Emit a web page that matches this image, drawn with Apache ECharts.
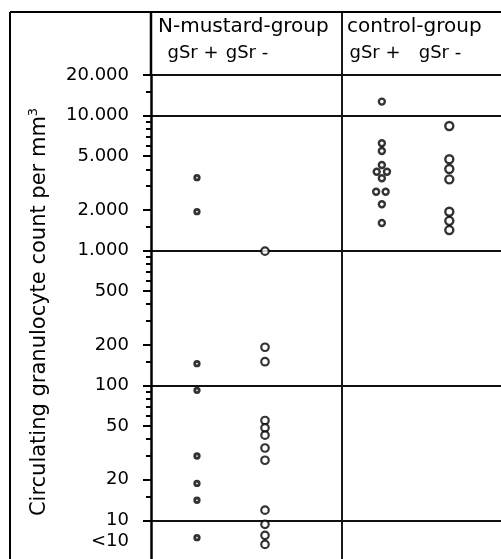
<!DOCTYPE html>
<html><head><meta charset="utf-8">
<script src="https://cdn.jsdelivr.net/npm/echarts@6/dist/echarts.min.js"></script>
<style>html,body{margin:0;padding:0;background:#fff}#c{width:501px;height:559px}</style>
</head><body><div id="c"></div>
<script>
// ---- data ----
const groups = ["N-mustard-group", "control-group"];
const subgroups = ["gSr +", "gSr -"];
const nMustardPlus = [3470, 1940, 145, 92, 30, 18.8, 14.1, 7.45];
const nMustardMinus = [990, 192, 150, 55, 48.5, 42.8, 34.4, 27.9, 11.9, 9.35, 7.75, 6.64];
const controlPlus = [12700, 6240, 5470, 4300, 3840, 3840, 3430, 2730, 2730, 2205, 1600];
const controlPlusJitter = [0, 0, 0, 0, -0.27, 0.27, 0, -0.3, 0.2, 0, 0];
const controlMinus = [8380, 4750, 4020, 3370, 1940, 1660, 1418];
const columnX = [2.42, 6.0, 12.15, 15.7];
const tickValues = [20000, 10000, 5000, 2000, 1000, 500, 200, 100, 50, 20, 10, 7];
const tickLabels = ["20.000", "10.000", "5.000", "2.000", "1.000", "500", "200", "100", "50", "20", "10", "<10"];
const majorTickValues = [20000, 10000, 5000, 2000, 1000, 500, 200, 100, 50, 20, 10];
const minorTickValues = [15000, 9000, 8000, 7000, 6000, 4000, 3000, 1500, 900, 800, 700, 600, 400, 300, 150, 90, 80, 70, 60, 40, 30, 15];
const gridValues = [10, 100, 1000, 10000, 20000];
const yTitle = "Circulating granulocyte count per mm";

// ---- chart ----
const FONT = "DejaVu Sans";
const chart = echarts.init(document.getElementById('c'), null, {renderer: 'canvas'});

function labelFor(v) {
  for (let i = 0; i < tickValues.length; i++) {
    if (Math.abs(tickValues[i] - v) / tickValues[i] < 1e-6) return tickLabels[i];
  }
  return '';
}
function pts(vals, col, jitter) {
  return vals.map((v, i) => [columnX[col] + (jitter ? jitter[i] : 0), v]);
}
const baseY = {type: 'log', logBase: 10, min: 5, max: 20000, gridIndex: 0, position: 'left'};

const option = {
  animation: false,
  backgroundColor: '#fff',
  grid: {left: 151, top: 75, width: 380, height: 486, containLabel: false, outerBoundsMode: 'none', show: false},
  xAxis: {type: 'value', min: 0, max: 20, show: false},
  yAxis: [
    Object.assign({}, baseY, {
      axisLine: {show: true, lineStyle: {color: '#000', width: 2.5}},
      axisTick: {show: true, customValues: majorTickValues, length: 8, lineStyle: {color: '#000', width: 2}},
      axisLabel: {show: true, customValues: tickValues, formatter: labelFor, margin: 22,
        color: '#000', fontFamily: FONT, fontSize: 18},
      splitLine: {show: false}, minorTick: {show: false}
    }),
    Object.assign({}, baseY, {
      axisLine: {show: false},
      axisTick: {show: true, customValues: minorTickValues, length: 5, lineStyle: {color: '#000', width: 2}},
      axisLabel: {show: false},
      splitLine: {show: false}
    }),
    Object.assign({}, baseY, {
      axisLine: {show: false},
      axisTick: {show: false, customValues: gridValues},
      axisLabel: {show: false},
      splitLine: {show: true, lineStyle: {color: '#111', width: 1.8}}
    })
  ],
  series: [
    {name: groups[0] + ' ' + subgroups[0], type: 'scatter', data: pts(nMustardPlus, 0),
     symbol: 'circle', symbolSize: 4.5, itemStyle: {color: '#fff', borderColor: '#000', borderWidth: 2.8}},
    {name: groups[0] + ' ' + subgroups[1], type: 'scatter', data: pts(nMustardMinus, 1),
     symbol: 'circle', symbolSize: 7.5, itemStyle: {color: '#fff', borderColor: '#000', borderWidth: 2.2}},
    {name: groups[1] + ' ' + subgroups[0], type: 'scatter', data: pts(controlPlus, 2, controlPlusJitter),
     symbol: 'circle', symbolSize: 6, itemStyle: {color: '#fff', borderColor: '#000', borderWidth: 2.4}},
    {name: groups[1] + ' ' + subgroups[1], type: 'scatter', data: pts(controlMinus, 3),
     symbol: 'circle', symbolSize: 8, itemStyle: {color: '#fff', borderColor: '#000', borderWidth: 2.4}}
  ],
  graphic: [
    {type: 'line', shape: {x1: 10, y1: 12, x2: 501, y2: 12}, style: {stroke: '#000', lineWidth: 2}},
    {type: 'line', shape: {x1: 10, y1: 12, x2: 10, y2: 559}, style: {stroke: '#000', lineWidth: 2}},
    {type: 'line', shape: {x1: 151, y1: 12, x2: 151, y2: 76}, style: {stroke: '#000', lineWidth: 2.5}},
    {type: 'line', shape: {x1: 342, y1: 12, x2: 342, y2: 559}, style: {stroke: '#000', lineWidth: 1.8}},
    {type: 'text', x: 158, y: 27, style: {text: groups[0], font: '20px "DejaVu Sans"', fill: '#000', verticalAlign: 'middle', align: 'left'}},
    {type: 'text', x: 347, y: 27, style: {text: groups[1], font: '20px "DejaVu Sans"', fill: '#000', verticalAlign: 'middle', align: 'left'}},
    {type: 'text', x: 193, y: 53, style: {text: subgroups[0], font: '18px "DejaVu Sans"', fill: '#000', verticalAlign: 'middle', align: 'center'}},
    {type: 'text', x: 247, y: 53, style: {text: subgroups[1], font: '18px "DejaVu Sans"', fill: '#000', verticalAlign: 'middle', align: 'center'}},
    {type: 'text', x: 375, y: 53, style: {text: subgroups[0], font: '18px "DejaVu Sans"', fill: '#000', verticalAlign: 'middle', align: 'center'}},
    {type: 'text', x: 440, y: 53, style: {text: subgroups[1], font: '18px "DejaVu Sans"', fill: '#000', verticalAlign: 'middle', align: 'center'}},
    {type: 'text', x: 40, y: 312, rotation: Math.PI / 2,
     style: {text: yTitle + '{sup|3}', fontFamily: FONT, fontSize: 21, lineHeight: 26, fill: '#000',
       align: 'center', verticalAlign: 'middle',
       rich: {sup: {fontFamily: FONT, fontSize: 13, verticalAlign: 'top', lineHeight: 26, fill: '#000'}}}}
  ]
};
chart.setOption(option);
</script>
</body></html>
